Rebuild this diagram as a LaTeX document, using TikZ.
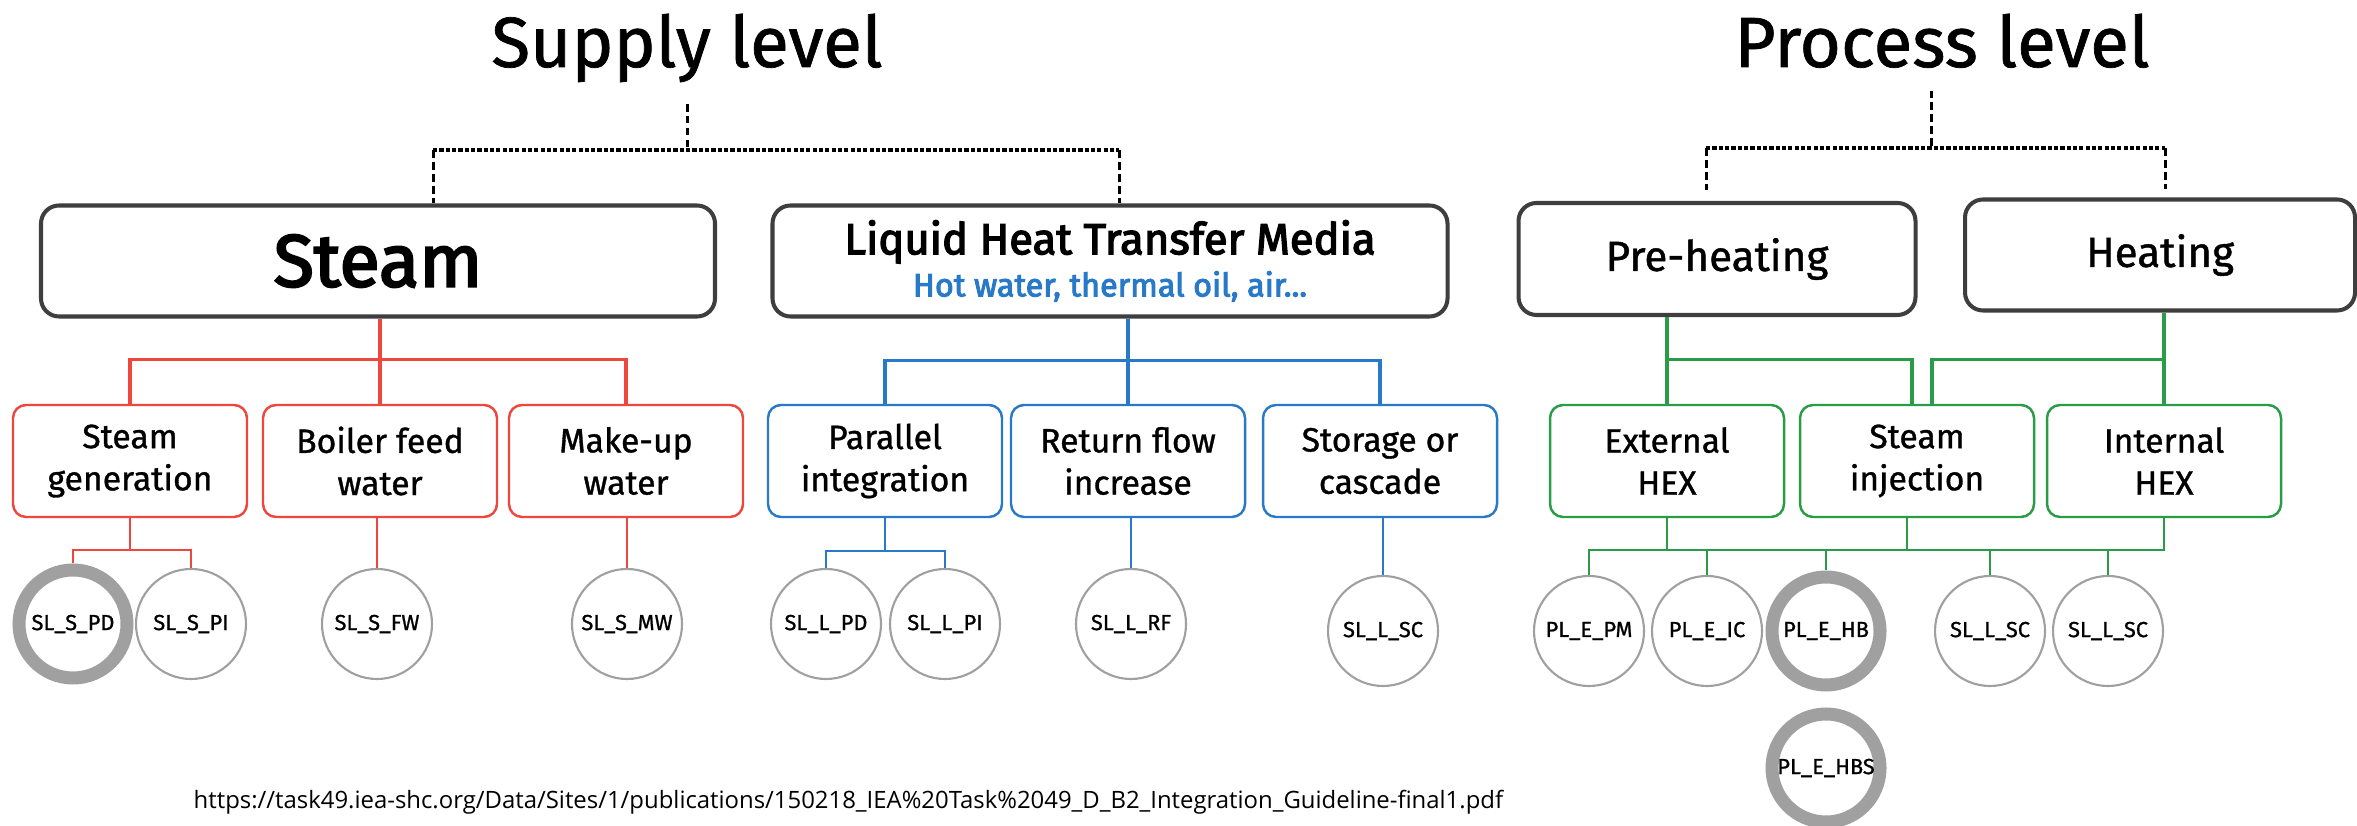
\documentclass[tikz,border=0pt]{standalone}
\usepackage{fontspec}
\setmainfont{Fira Sans}[FakeBold=1]
\newfontfamily\headfont{Fira Sans}[FakeBold=3]
\newfontfamily\urlfont{Open Sans}
\definecolor{boxline}{RGB}{62,62,62}
\definecolor{steamred}{RGB}{238,72,62}
\definecolor{liquidblue}{RGB}{40,122,200}
\definecolor{processgreen}{RGB}{42,156,72}
\definecolor{ringgray}{RGB}{160,160,160}
\begin{document}
\begin{tikzpicture}[x=0.1mm, y=-0.1mm,
  leveltitle/.style={inner sep=0pt, font=\fontsize{20.2}{20.2}\selectfont},
  topbox/.style={draw=boxline, line width=1.15pt, rounded corners=1.8mm, minimum height=11.1mm, inner sep=0pt, align=center},
  subbox/.style={draw=#1, line width=0.7pt, rounded corners=1.3mm, minimum width=23.4mm, minimum height=11.2mm, inner sep=0pt, align=center, font=\fontsize{9.6}{12}\selectfont},
  tech/.style={circle, draw=ringgray, line width=0.6pt, minimum size=11mm, inner sep=0pt, font=\fontsize{6.2}{6.5}\selectfont},
  chosen/.style={tech, line width=3.7pt, minimum size=10.8mm},
  vdash/.style={line width=0.85pt, dash pattern=on 2.2pt off 1.2pt},
  hdot/.style={line width=1pt, dash pattern=on 1.2pt off 0.6pt},
  feedline/.style={draw=#1, line width=0.95pt},
  branchline/.style={draw=#1, line width=0.65pt}]
\useasboundingbox (0,0) rectangle (2357,826);

\node[leveltitle, anchor=base] (supply) at (687,67) {Supply level};
\node[leveltitle, anchor=base] (process) at (1942,67) {Process level};

\node[topbox, minimum width=67.4mm, font=\headfont\fontsize{21}{21}\selectfont] (steam) at (378,261) {Steam};
\node[topbox, minimum width=67.5mm, font=\headfont] (liquid) at (1110,261) {\fontsize{12.4}{12.4}\selectfont Liquid Heat Transfer Media\\
  \fontsize{9.2}{10.8}\selectfont\color{liquidblue}Hot water, thermal oil, air...};
\node[topbox, minimum width=39.7mm, minimum height=11.2mm, font=\fontsize{12}{12}\selectfont] (pre) at (1717,259) {Pre-heating};
\node[topbox, minimum width=39mm, font=\fontsize{12}{12}\selectfont] (heat) at (2160,255) {Heating};

\node[subbox=steamred] (sgen) at (130,461) {Steam\\generation};
\node[subbox=steamred] (bfw) at (380,461) {Boiler feed\\water};
\node[subbox=steamred] (muw) at (626,461) {Make-up\\water};
\node[subbox=liquidblue] (par) at (885,461) {Parallel\\integration};
\node[subbox=liquidblue] (rfi) at (1128,461) {Return flow\\increase};
\node[subbox=liquidblue] (sto) at (1380,461) {Storage or\\cascade};
\node[subbox=processgreen] (ext) at (1667,461) {External\\HEX};
\node[subbox=processgreen] (inj) at (1917,461) {Steam\\injection};
\node[subbox=processgreen] (int) at (2164,461) {Internal\\HEX};

\node[chosen] (sspd) at (73,624) {SL\_S\_PD};
\node[tech] (sspi) at (191,624) {SL\_S\_PI};
\node[tech] (ssfw) at (377,624) {SL\_S\_FW};
\node[tech] (ssmw) at (627,624) {SL\_S\_MW};
\node[tech] (slpd) at (826,624) {SL\_L\_PD};
\node[tech] (slpi) at (945,624) {SL\_L\_PI};
\node[tech] (slrf) at (1131,624) {SL\_L\_RF};
\node[tech] (slsc) at (1383,631) {SL\_L\_SC};
\node[tech] (pepm) at (1589,631) {PL\_E\_PM};
\node[tech] (peic) at (1707,631) {PL\_E\_IC};
\node[chosen] (pehb) at (1826,631) {PL\_E\_HB};
\node[tech] (plsca) at (1990,631) {SL\_L\_SC};
\node[tech] (plscb) at (2108,631) {SL\_L\_SC};
\node[chosen] (pehbs) at (1826,768) {PL\_E\_HBS};

\node[anchor=base west, inner sep=0pt, font=\urlfont\fontsize{6.8}{6.8}\selectfont] (source) at (193,809)
  {https://task49.iea-shc.org/Data/Sites/1/publications/150218\_IEA\%20Task\%2049\_D\_B2\_Integration\_Guideline-final1.pdf};

% dashed forks under the two level titles
\coordinate (sbar) at (687,150);
\coordinate (pbar) at (1931,148);
\draw[vdash] ([yshift=-2.1mm]supply.south) -- (sbar);
\draw[hdot] ([xshift=5.5mm]steam.north |- sbar) -- ([xshift=0.9mm]liquid.north |- sbar);
\draw[vdash] ([xshift=5.5mm]steam.north |- sbar) -- ([xshift=5.5mm]steam.north);
\draw[vdash] ([xshift=0.9mm]liquid.north |- sbar) -- ([xshift=0.9mm]liquid.north);
\draw[vdash] ([yshift=-2.2mm]process.south -| pbar) -- (pbar);
\draw[hdot] ([xshift=-1.1mm]pre.north |- pbar) -- ([xshift=0.5mm]heat.north |- pbar);
\draw[vdash] ([xshift=-1.1mm]pre.north |- pbar) -- ([xshift=-1.1mm,yshift=1.1mm]pre.north);
\draw[vdash] ([xshift=0.5mm]heat.north |- pbar) -- ([xshift=0.5mm,yshift=0.8mm]heat.north);

% steam
\draw[feedline=steamred] (steam.south -| bfw.north) -- (bfw.north);
\draw[feedline=steamred] (sgen.north) -- ++(0,-44) -| (muw.north);
\draw[branchline=steamred] (sgen.south) -- ++(0,32) coordinate (sfork);
\draw[branchline=steamred] (sspd.north) |- (sfork) -| (sspi.north);
\draw[branchline=steamred] (ssfw.north |- bfw.south) -- (ssfw.north);
\draw[branchline=steamred] (ssmw.north |- muw.south) -- (ssmw.north);

% liquid media
\draw[feedline=liquidblue] (liquid.south -| rfi.north) -- (rfi.north);
\draw[feedline=liquidblue] (par.north) -- ++(0,-43) -| (sto.north);
\draw[branchline=liquidblue] (par.south) -- ++(0,33) coordinate (lfork);
\draw[branchline=liquidblue] (slpd.north) |- (lfork) -| (slpi.north);
\draw[branchline=liquidblue] (slrf.north |- rfi.south) -- (slrf.north);
\draw[branchline=liquidblue] (slsc.north |- sto.south) -- (slsc.north);

% process level
\draw[feedline=processgreen] (pre.south -| ext.north) -- (ext.north);
\draw[feedline=processgreen] (ext.north) ++(0,-44) -| ([xshift=-0.5mm]inj.north);
\draw[feedline=processgreen] (heat.south -| int.north) -- (int.north);
\draw[feedline=processgreen] (int.north) ++(0,-44) -| ([xshift=1.5mm]inj.north);
\coordinate (pbus) at (1589,550);
\draw[branchline=processgreen] (pepm.north) |- (pbus -| int.south) -- (int.south);
\draw[branchline=processgreen] (ext.south) -- (ext.south |- pbus);
\draw[branchline=processgreen] ([xshift=-1mm]inj.south) -- ([xshift=-1mm]inj.south |- pbus);
\draw[branchline=processgreen] (peic.north) -- (peic.north |- pbus);
\draw[branchline=processgreen] (pehb.north) -- (pehb.north |- pbus);
\draw[branchline=processgreen] (plsca.north) -- (plsca.north |- pbus);
\draw[branchline=processgreen] (plscb.north) -- (plscb.north |- pbus);
\end{tikzpicture}
\end{document}
